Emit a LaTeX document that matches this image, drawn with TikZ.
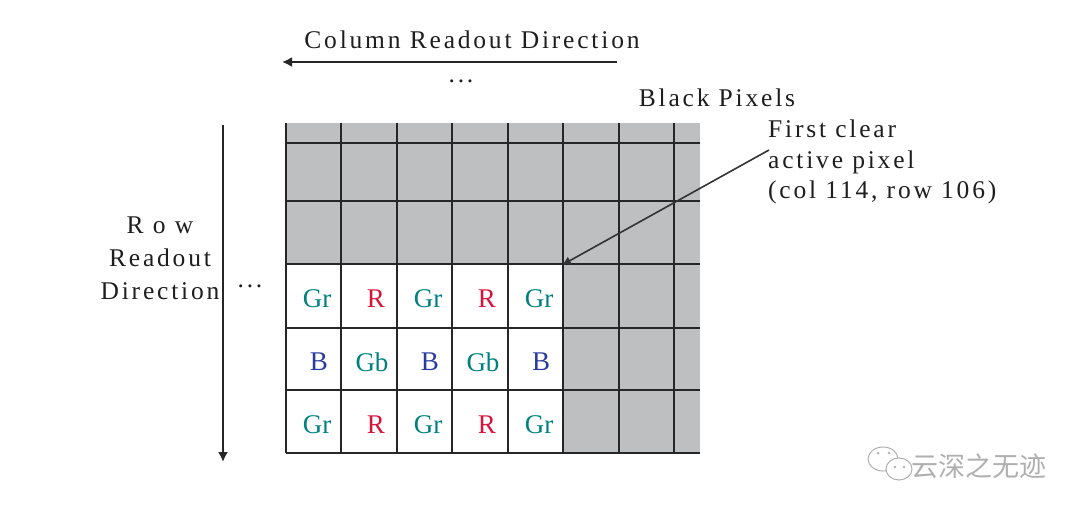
\documentclass[tikz,border=0pt]{standalone}
\usepackage{fontspec}
\setmainfont{Liberation Serif}
\newfontfamily\lsp[LetterSpace=11]{Liberation Serif}
\newfontfamily\cjk{Noto Sans CJK SC}
\usetikzlibrary{arrows.meta}
\definecolor{blackpix}{RGB}{190,191,193}
\definecolor{grc}{RGB}{0,128,128}
\definecolor{rc}{RGB}{215,20,60}
\definecolor{bc}{RGB}{40,60,160}
\definecolor{txtc}{RGB}{30,30,30}
\definecolor{wm}{RGB}{175,175,175}
\tikzset{
  gridline/.style={line width=2.5pt, draw=black!85},
  dirarrow/.style={line width=2.5pt, draw=black!85, -{Latex[length=10pt,width=10pt]}},
  leader/.style={line width=1.6pt, draw=black!80, -{Latex[length=9pt,width=9pt]}},
  lbl/.style={font=\lsp\fontsize{25.5}{30.5}\selectfont, text=txtc, inner sep=0pt},
  cell/.style={font=\fontsize{27}{27}\selectfont, inner sep=0pt},
  gr/.style={cell, text=grc},
  rr/.style={cell, text=rc},
  bb/.style={cell, text=bc},
}
\begin{document}
\begin{tikzpicture}[x=1pt,y=-1pt]
\useasboundingbox (0,0) rectangle (1080,514);
% pixel array
\fill[blackpix] (286,123) rectangle (700,453);
\fill[white] (286,264) rectangle (563,453);
\foreach \x in {286,341,397,452,508,563,619,674}
  \draw[gridline] (\x,123) -- (\x,453);
\foreach \y in {143,201,264,328,390,453}
  \draw[gridline] (286,\y) -- (700,\y);
% cell labels
\foreach \c/\x in {1/317,3/428,5/539} {
  \node[gr] (g1\c) at (\x,299) {Gr};
  \node[bb] (b2\c) at (\x+2,362) {B};
  \node[gr] (g3\c) at (\x,425) {Gr};
}
\foreach \c/\x in {2/376,4/487} {
  \node[rr] (r1\c) at (\x,299) {R};
  \node[gr] (g2\c) at (\x-4,362) {Gb};
  \node[rr] (r3\c) at (\x,425) {R};
}
% readout arrows
\coordinate (colS) at (617,62);
\coordinate (colE) at (282,62);
\draw[dirarrow] (colS) -- (colE);
\coordinate (rowS) at (223,125);
\coordinate (rowE) at (223,462);
\draw[dirarrow] (rowS) -- (rowE);
% labels
\node[lbl] (coltxt) at (472,40) {Column Readout Direction};
\node[lbl] (dots1) at (461,81) {...};
\node[lbl, align=center, font=\lsp\fontsize{25.5}{33}\selectfont] (rowtxt) at (160,258) {R o w\\Readout\\Direction};
\node[lbl] (dots2) at (250,286) {...};
\node[lbl] (blk) at (717,98) {Black Pixels};
\node[lbl, align=left, anchor=north west] (fcl) at (768,120) {First clear\\active pixel\\(col 114, row 106)};
% leader
\coordinate (fcp) at (562,265);
\coordinate (fcs) at (769,150);
\draw[leader] (fcs) -- (fcp);
% watermark
\draw[wm, line width=1pt, fill=white] (883,459) ellipse (15pt and 12pt);
\draw[wm, line width=1pt, fill=white] (899,469) ellipse (13pt and 11pt);
\foreach \p in {(878,453),(889,453),(895,467),(904,467)} \fill[wm] \p circle (1.3pt);
\node[font=\cjk\fontsize{27}{27}\selectfont, text=wm, anchor=west, inner sep=0pt] (wmt) at (911,466) {云深之无迹};
\end{tikzpicture}
\end{document}
